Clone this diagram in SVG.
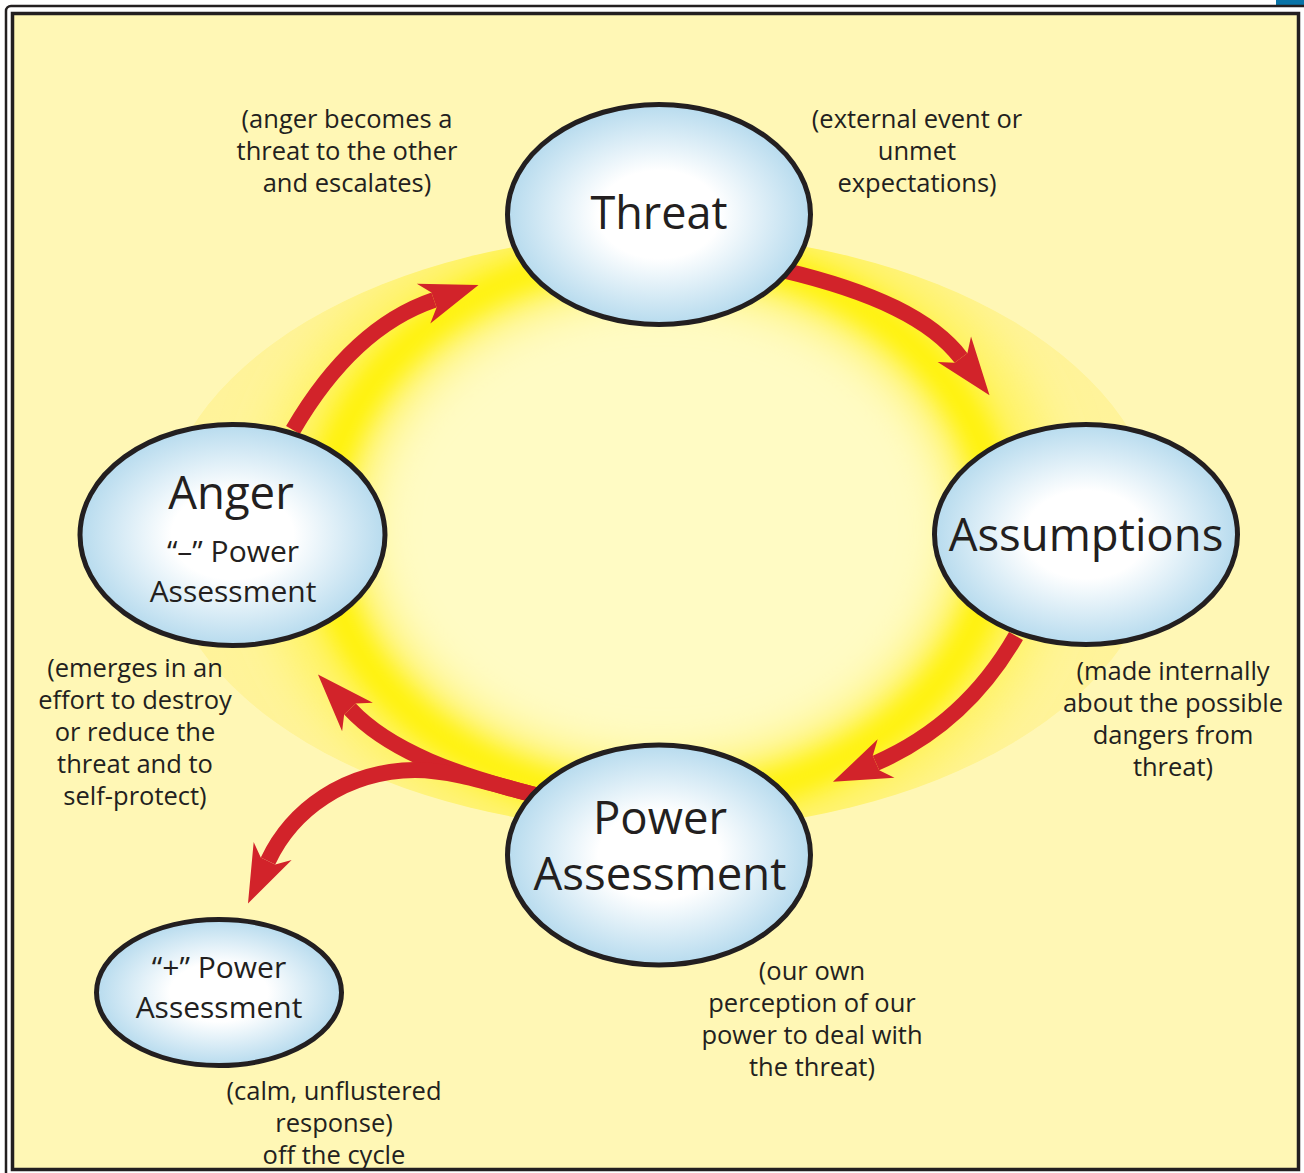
<svg xmlns="http://www.w3.org/2000/svg" width="1304" height="1173" viewBox="0 0 1304 1173">
  <style>
    .node { fill: url(#bubble); stroke: #231f20; stroke-width: 5; }
    .label { font-family: "Open Sans", "Liberation Sans", sans-serif; fill: #231f20; text-anchor: middle; }
    .big { font-size: 45px; }
    .mid { font-size: 45.5px; }
    .small { font-size: 30px; }
    .note { font-family: "Open Sans", "Liberation Sans", sans-serif; font-size: 25.5px; fill: #231f20; text-anchor: middle; }
    .arrow { fill: none; stroke: #d2232a; stroke-width: 16; stroke-linecap: butt; marker-end: url(#head); }
  </style>
  <defs>
    <radialGradient id="bubble" cx="0.5" cy="0.5" r="0.5">
      <stop offset="0" stop-color="#ffffff"/>
      <stop offset="0.4" stop-color="#ffffff"/>
      <stop offset="1" stop-color="#b7dbee"/>
    </radialGradient>
    <radialGradient id="haloFill" cx="0.5" cy="0.5" r="0.5">
      <stop offset="0" stop-color="#fffbc2"/>
      <stop offset="0.6" stop-color="#fff79a"/>
      <stop offset="1" stop-color="#fff39a"/>
    </radialGradient>
    <clipPath id="haloClip">
      <ellipse cx="660" cy="532" rx="500" ry="298"/>
    </clipPath>
    <filter id="softWide" x="-20%" y="-20%" width="140%" height="140%">
      <feGaussianBlur stdDeviation="26"/>
    </filter>
    <filter id="softRing" x="-20%" y="-20%" width="140%" height="140%">
      <feGaussianBlur stdDeviation="13"/>
    </filter>
    <marker id="head" markerUnits="userSpaceOnUse" viewBox="-20 -30 80 60" refX="0" refY="0" markerWidth="80" markerHeight="60" orient="auto" overflow="visible">
      <path d="M-11,-21 L47,0 L-11,21 L0,8 L0,-8 Z" fill="#d2232a"/>
    </marker>
  </defs>

  <!-- page frame -->
  <rect x="0" y="0" width="1304" height="1173" fill="#ffffff"/>
  <rect x="1276" y="0" width="28" height="5" fill="#0a74a8"/>
  <rect x="6" y="6" width="1320" height="1190" rx="5" fill="#ffffff" stroke="#231f20" stroke-width="2.5"/>
  <rect x="12.5" y="13.5" width="1286" height="1156" fill="#fff7b5" stroke="#231f20" stroke-width="3.5"/>

  <!-- yellow halo behind the cycle -->
  <g id="halo" clip-path="url(#haloClip)">
    <ellipse cx="660" cy="532" rx="500" ry="298" fill="url(#haloFill)"/>
    <ellipse cx="660" cy="527" rx="340" ry="275" fill="none" stroke="#fff35a" stroke-width="110" filter="url(#softWide)"/>
    <ellipse cx="660" cy="527" rx="335" ry="272" fill="none" stroke="#fff200" stroke-width="36" filter="url(#softRing)"/>
    <ellipse cx="660" cy="527" rx="290" ry="235" fill="#fffbc4" filter="url(#softWide)"/>
  </g>

  <!-- connectors -->
  <g id="connectors">
    <path class="arrow" d="M782,270 C875,292 932,320 961,358"/>
    <path class="arrow" d="M1016,636 C985,690 940,735 876,763"/>
    <path class="arrow" d="M535,795 C460,776 390,752 350,709"/>
    <path class="arrow" d="M535,795 C490,783 450,770 415,770 C345,771 292,810 268,861"/>
    <path class="arrow" d="M293,430 C328,370 375,320 434,300"/>
  </g>

  <!-- nodes -->
  <g id="threat">
    <ellipse class="node" cx="659" cy="214.5" rx="151.5" ry="110"/>
    <text class="label big" x="659" y="229">Threat</text>
  </g>
  <g id="assumptions">
    <ellipse class="node" cx="1086" cy="534.5" rx="151.5" ry="110"/>
    <text class="label mid" x="1086" y="551">Assumptions</text>
  </g>
  <g id="power-assessment">
    <ellipse class="node" cx="659" cy="855" rx="151.5" ry="110"/>
    <text class="label mid" x="660" y="834">Power</text>
    <text class="label mid" x="660" y="890">Assessment</text>
  </g>
  <g id="anger">
    <ellipse class="node" cx="232.5" cy="535" rx="152.5" ry="110.5"/>
    <text class="label mid" x="231" y="509">Anger</text>
    <text class="label small" x="233" y="562">“–” Power</text>
    <text class="label small" x="233" y="602">Assessment</text>
  </g>
  <g id="positive-assessment">
    <ellipse class="node" cx="219" cy="992.5" rx="122.5" ry="73"/>
    <text class="label small" x="219" y="978">“+” Power</text>
    <text class="label small" x="219" y="1018">Assessment</text>
  </g>

  <!-- annotations -->
  <g id="notes">
    <text class="note" x="347" y="128">(anger becomes a</text>
    <text class="note" x="347" y="160">threat to the other</text>
    <text class="note" x="347" y="192">and escalates)</text>

    <text class="note" x="917" y="128">(external event or</text>
    <text class="note" x="917" y="160">unmet</text>
    <text class="note" x="917" y="192">expectations)</text>

    <text class="note" x="135" y="677">(emerges in an</text>
    <text class="note" x="135" y="709">effort to destroy</text>
    <text class="note" x="135" y="741">or reduce the</text>
    <text class="note" x="135" y="773">threat and to</text>
    <text class="note" x="135" y="805">self-protect)</text>

    <text class="note" x="1173" y="680">(made internally</text>
    <text class="note" x="1173" y="712">about the possible</text>
    <text class="note" x="1173" y="744">dangers from</text>
    <text class="note" x="1173" y="776">threat)</text>

    <text class="note" x="812" y="980">(our own</text>
    <text class="note" x="812" y="1012">perception of our</text>
    <text class="note" x="812" y="1044">power to deal with</text>
    <text class="note" x="812" y="1076">the threat)</text>

    <text class="note" x="334" y="1100">(calm, unflustered</text>
    <text class="note" x="334" y="1132">response)</text>
    <text class="note" x="334" y="1164">off the cycle</text>
  </g>
</svg>
